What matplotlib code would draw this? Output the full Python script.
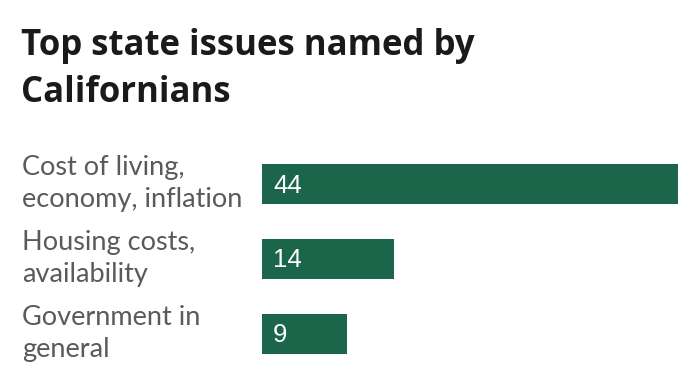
import matplotlib
matplotlib.use("Agg")
import matplotlib.pyplot as plt

title_lines = ["Top state issues named by", "Californians"]
categories = [["Cost of living,", "economy, inflation"],
              ["Housing costs,", "availability"],
              ["Government in", "general"]]
values = [44, 14, 9]

W, H = 700, 388
fig = plt.figure(figsize=(W / 100, H / 100), dpi=100)
fig.patch.set_facecolor("white")

ax = fig.add_axes([262 / W, 1 - 371 / H, 416 / W, 224.3 / H])
ypos = list(range(len(values)))
ax.barh(ypos, values, height=0.535, color="#1b654a")
ax.set_xlim(0, 44)
ax.set_ylim(2.5, -0.5)
ax.axis("off")

for y, v in zip(ypos, values):
    ax.annotate(str(v), xy=(0, y), xytext=(11, -8.5), textcoords="offset pixels",
                ha="left", va="baseline", color="white", fontsize=18.5,
                fontfamily="Liberation Sans")

for y, lines in zip(ypos, categories):
    yd = ax.transData.transform((0, y))[1]
    for i, line in enumerate(lines):
        base = yd + 9 - 32 * i
        fig.text(22 / W, base / H, line, ha="left", va="baseline", fontsize=19.5,
                 color="#5a5a5a", fontfamily="Lato")

for i, line in enumerate(title_lines):
    base = 55 + 47 * i
    fig.text(21 / W, 1 - base / H, line, ha="left", va="baseline", fontsize=25,
             fontweight="bold", color="#1a1a1a", fontfamily="Open Sans")

fig.savefig("out.png", dpi=100)
